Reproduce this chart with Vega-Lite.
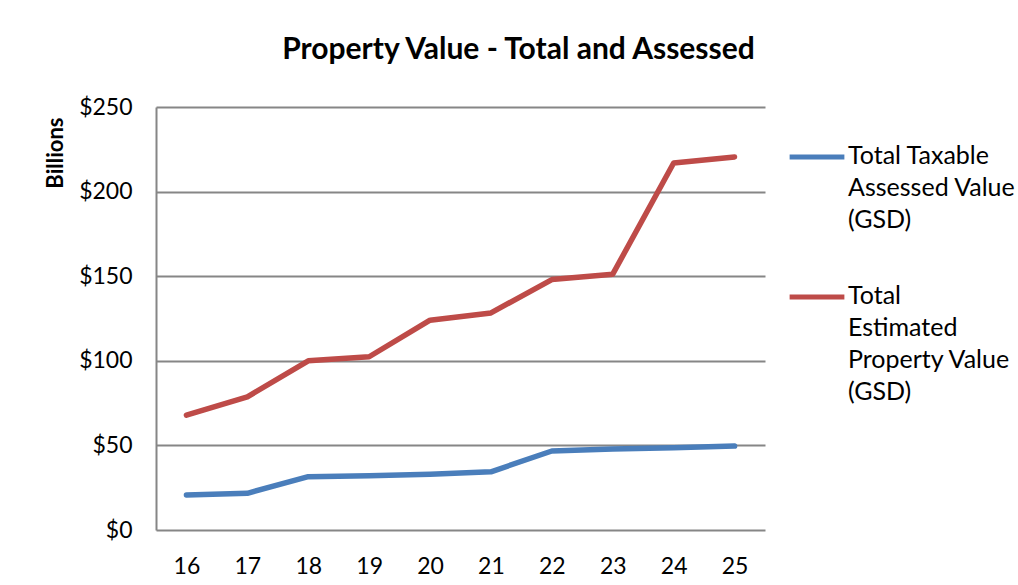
{
  "$schema": "https://vega.github.io/schema/vega-lite/v6.json",
  "width": 609,
  "height": 423,
  "autosize": {"type": "none"},
  "padding": {"left": 156, "top": 107, "right": 253, "bottom": 55},
  "background": "white",
  "title": {
    "text": "Property Value - Total and Assessed",
    "font": "Lato",
    "fontSize": 30,
    "fontWeight": "bold",
    "color": "#000000",
    "anchor": "middle",
    "dx": 58,
    "offset": 31
  },
  "data": {
    "values": [
      {"year": "16", "series": "Total Taxable Assessed Value (GSD)", "value": 20.7},
      {"year": "17", "series": "Total Taxable Assessed Value (GSD)", "value": 21.7},
      {"year": "18", "series": "Total Taxable Assessed Value (GSD)", "value": 31.5},
      {"year": "19", "series": "Total Taxable Assessed Value (GSD)", "value": 32.1},
      {"year": "20", "series": "Total Taxable Assessed Value (GSD)", "value": 32.9},
      {"year": "21", "series": "Total Taxable Assessed Value (GSD)", "value": 34.4},
      {"year": "22", "series": "Total Taxable Assessed Value (GSD)", "value": 46.7},
      {"year": "23", "series": "Total Taxable Assessed Value (GSD)", "value": 47.8},
      {"year": "24", "series": "Total Taxable Assessed Value (GSD)", "value": 48.6},
      {"year": "25", "series": "Total Taxable Assessed Value (GSD)", "value": 49.6},
      {"year": "16", "series": "Total Estimated Property Value (GSD)", "value": 67.9},
      {"year": "17", "series": "Total Estimated Property Value (GSD)", "value": 78.7},
      {"year": "18", "series": "Total Estimated Property Value (GSD)", "value": 100.0},
      {"year": "19", "series": "Total Estimated Property Value (GSD)", "value": 102.4},
      {"year": "20", "series": "Total Estimated Property Value (GSD)", "value": 124.0},
      {"year": "21", "series": "Total Estimated Property Value (GSD)", "value": 128.3},
      {"year": "22", "series": "Total Estimated Property Value (GSD)", "value": 148.0},
      {"year": "23", "series": "Total Estimated Property Value (GSD)", "value": 151.2},
      {"year": "24", "series": "Total Estimated Property Value (GSD)", "value": 216.9},
      {"year": "25", "series": "Total Estimated Property Value (GSD)", "value": 220.5}
    ]
  },
  "mark": {"type": "line", "strokeWidth": 5.5, "strokeCap": "round", "strokeJoin": "round"},
  "encoding": {
    "x": {
      "field": "year",
      "type": "ordinal",
      "scale": {"type": "point", "padding": 0.5},
      "axis": {
        "title": null,
        "labelAngle": 0,
        "labelFont": "Lato",
        "labelFontSize": 23,
        "labelColor": "#000000",
        "labelPadding": 25,
        "ticks": false,
        "domain": false,
        "grid": false
      }
    },
    "y": {
      "field": "value",
      "type": "quantitative",
      "scale": {"domain": [0, 250], "nice": false},
      "axis": {
        "title": "Billions",
        "titleFont": "Lato",
        "titleFontSize": 22,
        "titleFontWeight": "bold",
        "titleColor": "#000000",
        "titleAnchor": "end",
        "titleX": -101,
        "titleY": 10,
        "titleBaseline": "middle",
        "titleAlign": "right",
        "values": [0, 50, 100, 150, 200, 250],
        "format": "$,d",
        "labelFont": "Lato",
        "labelFontSize": 23,
        "labelColor": "#000000",
        "labelPadding": 24,
        "ticks": false,
        "domain": true,
        "domainColor": "#868686",
        "domainWidth": 2,
        "grid": true,
        "gridColor": "#868686",
        "gridWidth": 2
      }
    },
    "color": {
      "field": "series",
      "type": "nominal",
      "sort": ["Total Taxable Assessed Value (GSD)", "Total Estimated Property Value (GSD)"],
      "scale": {
        "domain": ["Total Taxable Assessed Value (GSD)", "Total Estimated Property Value (GSD)"],
        "range": ["#4A7EBB", "#BE4B48"]
      },
      "legend": {
        "title": null,
        "orient": "none",
        "legendX": 631,
        "legendY": 20,
        "symbolType": "stroke",
        "symbolSize": 3000,
        "symbolStrokeWidth": 5,
        "labelFont": "Lato",
        "labelFontSize": 25,
        "labelColor": "#000000",
        "labelLimit": 300,
        "labelOffset": 1,
        "labelBaseline": "top",
        "rowPadding": 34,
        "labelExpr": "datum.label == 'Total Taxable Assessed Value (GSD)' ? ['Total Taxable', 'Assessed Value', '(GSD)'] : ['Total', 'Estimated', 'Property Value', '(GSD)']",
        "encode": {
          "labels": {"update": {"dy": {"value": -13}}}
        }
      }
    }
  },
  "config": {
    "view": {"stroke": null},
    "style": {"guide-label": {"lineHeight": 32}}
  }
}
